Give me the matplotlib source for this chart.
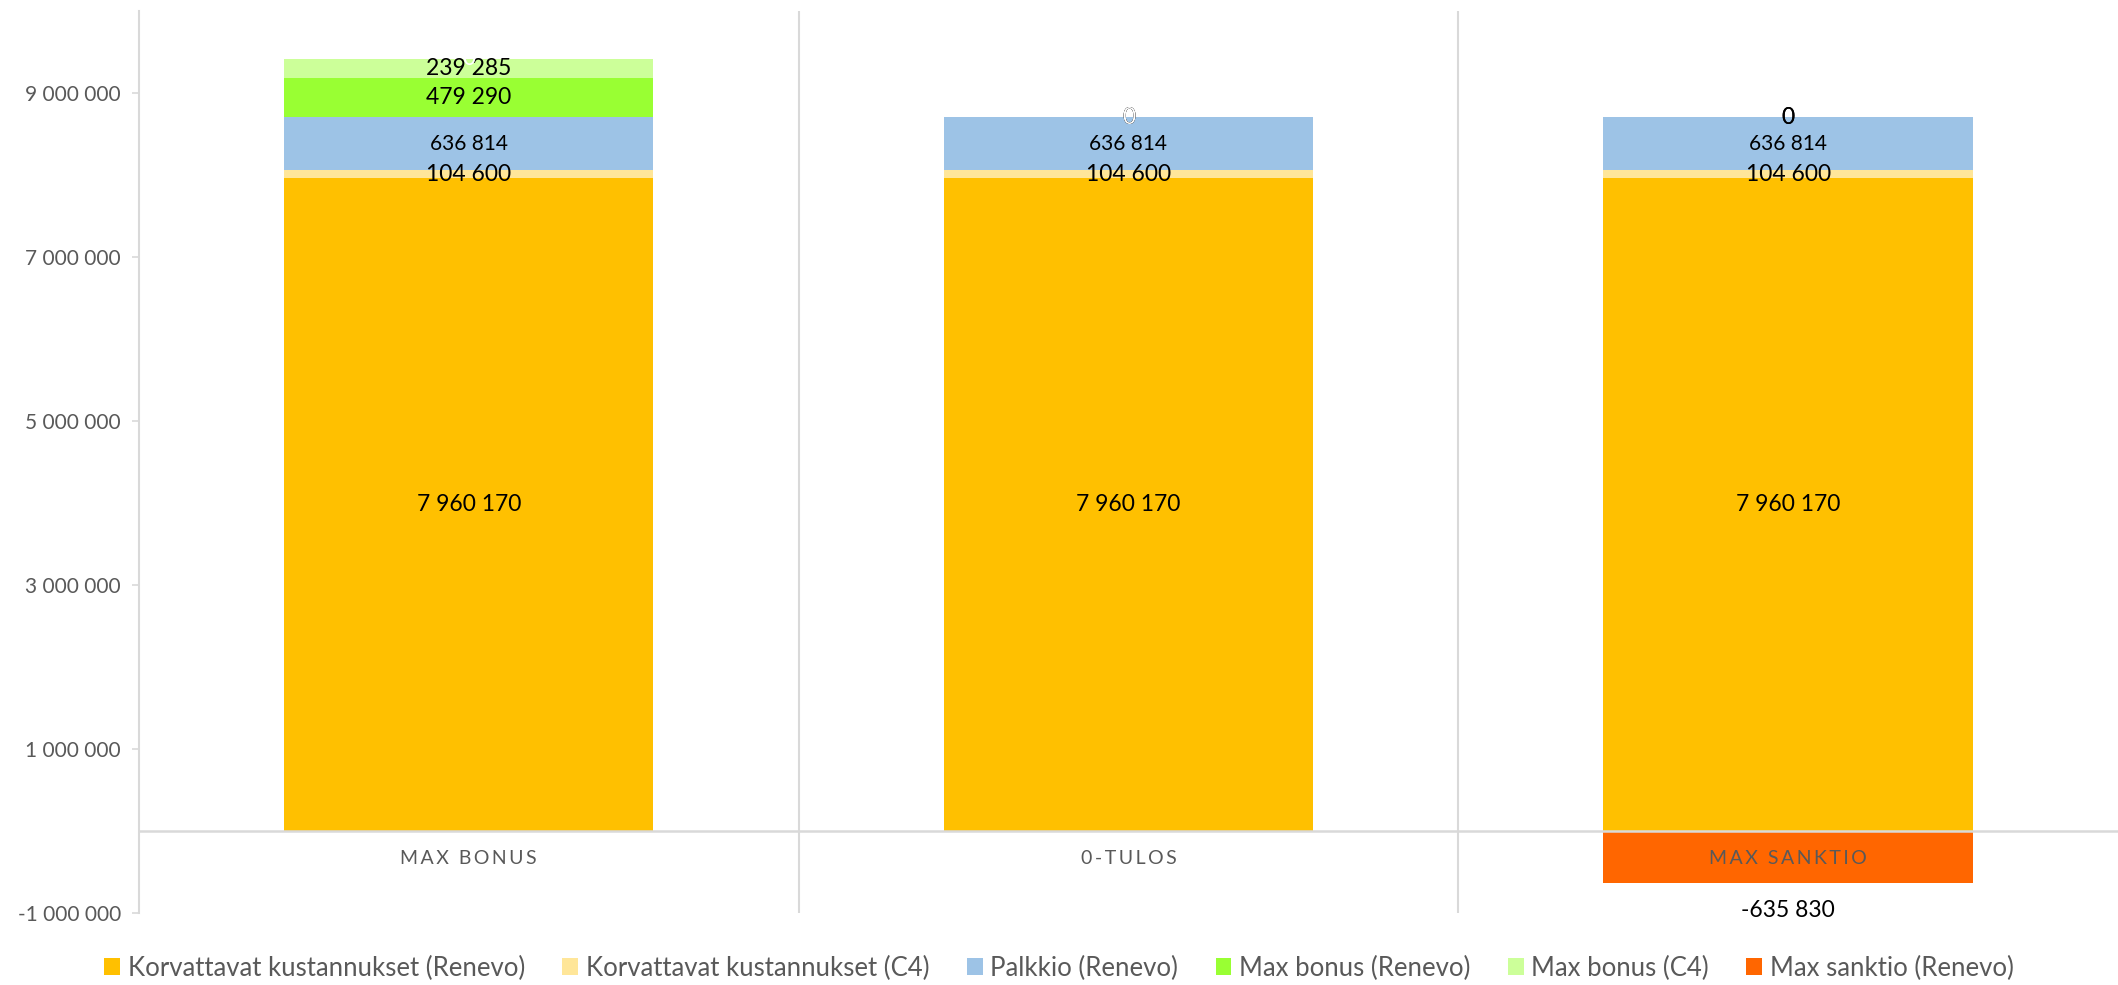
import matplotlib
matplotlib.use("Agg")
import matplotlib.pyplot as plt
from matplotlib.patches import Patch
from matplotlib.ticker import FuncFormatter

plt.rcParams["font.family"] = ["Lato", "DejaVu Sans"]

categories = ["MAX BONUS", "0-TULOS", "MAX SANKTIO"]
korv_renevo = [7960170, 7960170, 7960170]
korv_c4 = [104600, 104600, 104600]
palkkio = [636814, 636814, 636814]
bonus_renevo = [479290, 0, 0]
bonus_c4 = [239285, 0, 0]
sanktio = [0, 0, -635830]

series_names = [
    "Korvattavat kustannukset (Renevo)",
    "Korvattavat kustannukset (C4)",
    "Palkkio (Renevo)",
    "Max bonus (Renevo)",
    "Max bonus (C4)",
    "Max sanktio (Renevo)",
]
colors = ["#FFC000", "#FFE699", "#9DC3E6", "#99FF33", "#CCFF99", "#FF6600"]
label_sizes = [16.5, 16.5, 15, 16.5, 16.5, 16.5]

GRID = "#d9d9d9"
TEXT = "#595959"


def fmt(v):
    return f"{int(v):,}".replace(",", " ")


fig = plt.figure(figsize=(21.18, 9.85), dpi=100)
ax = fig.add_axes([0.0656, 0.0731, 0.9344, 0.9157])

x = list(range(len(categories)))
width = 0.56
positive = [korv_renevo, korv_c4, palkkio, bonus_renevo, bonus_c4]

bottoms = [0, 0, 0]
for vals, name, col, fs in zip(positive, series_names, colors, label_sizes):
    ax.bar(x, vals, width, bottom=bottoms, color=col, zorder=2)
    for i, v in enumerate(vals):
        ax.text(i, bottoms[i] + v / 2, fmt(v), ha="center", va="center",
                fontsize=fs, color="black", zorder=5)
    bottoms = [b + v for b, v in zip(bottoms, vals)]

# sanktio series (negative), zero labels sit on top of the stack in white
ax.bar(x, sanktio, width, color=colors[5], zorder=2)
for i, v in enumerate(sanktio):
    if v == 0:
        ax.text(i, bottoms[i], fmt(v), ha="center", va="center",
                fontsize=16.5, color="white", zorder=6)
    else:
        ax.annotate(fmt(v), (i, v), xytext=(0, -20), textcoords="offset points",
                    ha="center", va="center", fontsize=16.5, color="black", zorder=6)

# category labels just below the zero line
for i, c in enumerate(categories):
    ax.annotate("\u2009".join(c), (i, 0), xytext=(0, -19.5), textcoords="offset points",
                ha="center", va="center", fontsize=14, color=TEXT, zorder=7)

ax.set_xlim(-0.5, 2.5)
ax.set_ylim(-1000000, 10000000)
ax.set_yticks([-1000000, 1000000, 3000000, 5000000, 7000000, 9000000])
ax.yaxis.set_major_formatter(FuncFormatter(lambda v, p: fmt(v)))
ax.set_xticks([])
ax.tick_params(axis="y", length=5, width=1.2, color=GRID, labelsize=15,
               labelcolor=TEXT, pad=8)

for s in ["top", "right", "bottom"]:
    ax.spines[s].set_visible(False)
ax.spines["left"].set_color(GRID)
ax.spines["left"].set_linewidth(1.5)

ax.axhline(0, color=GRID, linewidth=1.8, zorder=4)
for b in [0.5, 1.5]:
    ax.axvline(b, color=GRID, linewidth=1.5, zorder=1)

handles = [Patch(facecolor=c, edgecolor="none") for c in colors]
fig.legend(handles, series_names, loc="center", bbox_to_anchor=(0.5, 1 - 968 / 985),
           ncol=6, frameon=False, fontsize=18.5, labelcolor=TEXT,
           handlelength=0.62, handleheight=0.62, handletextpad=0.3, columnspacing=1.45)

fig.savefig("out.png", dpi=100)
